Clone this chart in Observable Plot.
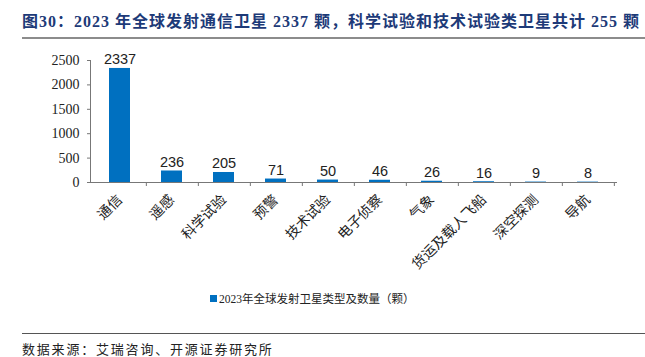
<!DOCTYPE html>
<html><head><meta charset="utf-8">
<script src="https://cdn.jsdelivr.net/npm/d3@7"></script>
<script src="https://cdn.jsdelivr.net/npm/@observablehq/plot@0.6"></script>
<style>
body{margin:0;background:#fff;}
#wrap{position:relative;width:645px;height:357px;overflow:hidden;font-family:"Liberation Serif","Noto Sans CJK SC",serif;}
#title{position:absolute;left:22px;top:8px;font-size:16px;font-weight:bold;color:#1d3a78;white-space:nowrap;letter-spacing:1px;}
#tline{position:absolute;left:22px;top:37px;width:623px;height:2px;background:#8c8c8c;}
#chart{position:absolute;left:0;top:40px;}
#legend{position:absolute;left:210px;top:290px;font-size:11.5px;color:#222;white-space:nowrap;}
#legend span.sw{display:inline-block;width:7px;height:7px;background:#0070c0;margin-right:2px;vertical-align:1px;}
#bline{position:absolute;left:22px;top:333px;width:623px;height:1px;background:#555;}
#source{position:absolute;left:22px;top:339px;font-size:13px;color:#222;white-space:nowrap;letter-spacing:1.8px;}
</style></head>
<body>
<div id="wrap">
<div id="title">图30：2023 年全球发射通信卫星 2337 颗，科学试验和技术试验类卫星共计 255 颗</div>
<div id="tline"></div>
<div id="chart"></div>
<div id="legend"><span class="sw"></span>2023年全球发射卫星类型及数量（颗）</div>
<div id="bline"></div>
<div id="source">数据来源：艾瑞咨询、开源证券研究所</div>
</div>
<script>
const categories = ["通信","遥感","科学试验","预警","技术试验","电子侦察","气象","货运及载人飞船","深空探测","导航"];
const values = [2337,236,205,71,50,46,26,16,9,8];
const yTicks = [0,500,1000,1500,2000,2500];

const data = categories.map((c,i)=>({cat:c, v:values[i]}));
const W = 645, mL = 90, mR = 28;
const step = (W - mL - mR) / categories.length;

const chart = Plot.plot({
  width: W, height: 240,
  marginLeft: mL, marginRight: mR, marginTop: 20, marginBottom: 98,
  style: {fontFamily: '"Liberation Serif","Noto Sans CJK SC",serif', color: "#222", background: "transparent"},
  x: {domain: categories, paddingInner: 0.6, paddingOuter: 0.3, label: null},
  y: {domain: [0,2500], ticks: yTicks, label: null},
  marks: [
    Plot.barY(data, {x: "cat", y: "v", fill: "#0070c0"}),
    Plot.text(data, {x: "cat", y: "v", text: d => String(d.v), lineAnchor: "bottom", dy: -4,
      fontFamily: '"Liberation Sans","DejaVu Sans",sans-serif', fontSize: 14.5, fill: "#222"}),
    Plot.axisY({ticks: yTicks, tickSize: 3, tickPadding: 8, fontSize: 14, stroke: "#777", tickFormat: d => String(d)}),
    Plot.frame({anchor: "left", stroke: "#777"}),
    Plot.axisX({tickSize: 4, tickFormat: null, dx: step/2, stroke: "#777"}),
    Plot.axisX({tickSize: 0, tickRotate: -45, tickPadding: 15, fontSize: 14,
      fontFamily: '"Noto Sans CJK SC",sans-serif', fill: "#222"}),
    Plot.ruleY([0], {stroke: "#777"})
  ]
});
document.getElementById("chart").appendChild(chart);
</script>
</body></html>
